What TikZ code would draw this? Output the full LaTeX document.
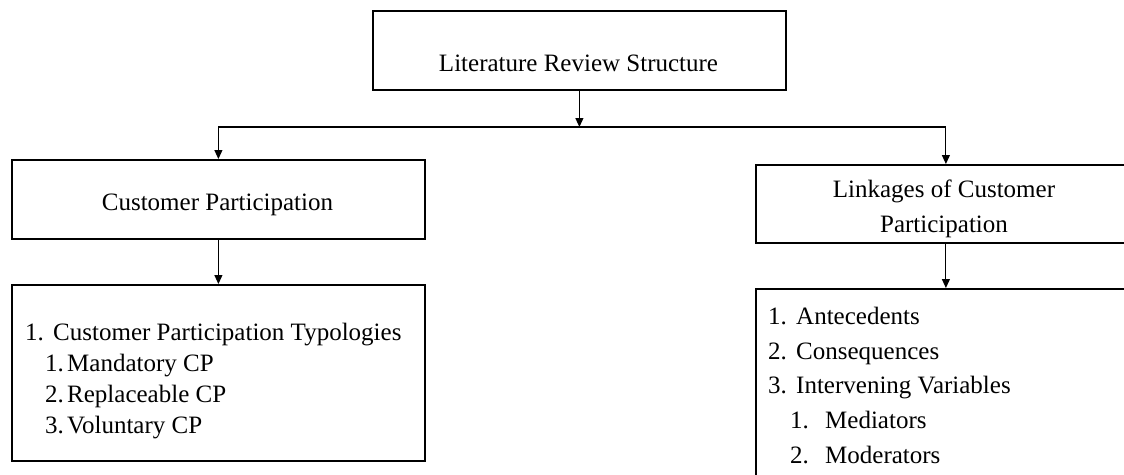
\documentclass[tikz,border=0pt]{standalone}
\usepackage{fontspec}
\setmainfont{Liberation Serif}
\usetikzlibrary{arrows.meta}
\begin{document}
\begin{tikzpicture}[x=1pt,y=-1pt,
  box/.style={draw, line width=1.8pt, inner sep=0pt, anchor=north west},
  txt/.style={inner sep=0pt, font=\fontsize{25}{30}\selectfont},
  item/.style={txt, anchor=base west},
  conn/.style={draw, line width=1.1pt},
  tip/.style={-{Triangle[width=8pt,length=9pt]}},
  tips/.style={{Triangle[width=8pt,length=9pt]}-{Triangle[width=8pt,length=9pt]}}]
\useasboundingbox (0,0) rectangle (1124,474);
\clip (0,0) rectangle (1124,474);

% boxes
\node[box, minimum width=413pt, minimum height=79pt] (top) at (372,10) {};
\node[box, minimum width=413pt, minimum height=79pt] (cp)  at (11,159) {};
\node[box, minimum width=413pt, minimum height=176pt] (cpl) at (11,284) {};
\node[box, minimum width=380pt, minimum height=78pt] (lk)  at (755,164) {};
\node[box, minimum width=380pt, minimum height=220pt] (lkl) at (755,288) {};

% box titles
\node[txt, anchor=base] (topt) at (578.5,71) {Literature Review Structure};
\node[txt, anchor=base] (cpt) at (217.5,210) {Customer Participation};
\node[txt, anchor=base] (lkt1) at (944,197) {Linkages of Customer};
\node[txt, anchor=base] (lkt2) at (944,232) {Participation};

% customer participation list
\node[item] (a1) at (25,340) {\makebox[28pt][l]{1.}Customer Participation Typologies};
\node[item] (a2) at (45,371) {\makebox[22pt][l]{1.}Mandatory CP};
\node[item] (a3) at (45,402) {\makebox[22pt][l]{2.}Replaceable CP};
\node[item] (a4) at (45,433) {\makebox[22pt][l]{3.}Voluntary CP};

% linkages list
\node[item] (b1) at (768,324) {\makebox[28pt][l]{1.}Antecedents};
\node[item] (b2) at (768,359) {\makebox[28pt][l]{2.}Consequences};
\node[item] (b3) at (768,393) {\makebox[28pt][l]{3.}Intervening Variables};
\node[item] (b4) at (790,428) {\makebox[35pt][l]{1.}Mediators};
\node[item] (b5) at (790,463) {\makebox[35pt][l]{2.}Moderators};

% connectors
\coordinate (bus) at (0,127);
\draw[conn, tip] (top.south) -- (top.south |- bus);
\draw[conn, tips] (cp.north) |- (top.south |- bus) -| (lk.north);
\draw[conn, tip] (cp.south) -- (cpl.north);
\draw[conn, tip] (lk.south) -- (lkl.north);
\end{tikzpicture}
\end{document}
